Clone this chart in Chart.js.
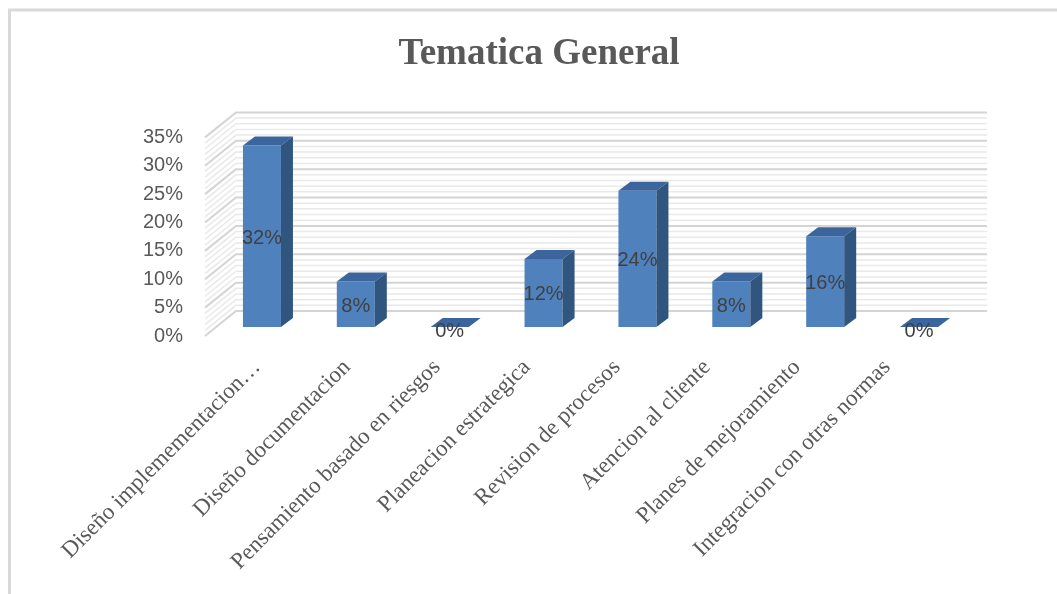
<!DOCTYPE html>
<html>
<head>
<meta charset="utf-8">
<script src="https://cdn.jsdelivr.net/npm/chart.js@4/dist/chart.umd.min.js"></script>
<style>
  body { margin: 0; background: #fff; }
  #wrap { width: 1057px; height: 594px; }
</style>
</head>
<body>
<div id="wrap"><canvas id="myChart"></canvas></div>
<script>
const categories = [
  'Diseño implemementacion…',
  'Diseño documentacion',
  'Pensamiento basado en riesgos',
  'Planeacion estrategica',
  'Revision de procesos',
  'Atencion al cliente',
  'Planes de mejoramiento',
  'Integracion con otras normas',
];
const values = [32, 8, 0, 12, 24, 8, 16, 0];
const yMax = 35;
const yStep = 5;

// fake 3d offsets (dx, dy) from the bar plane
const frontOff = [-10, 9];
const backOff = [21, -16];
const barDepth = [12, -9];

const frame3d = {
  id: 'frame3d',
  beforeDraw(chart) {
    const c = chart.ctx;
    c.save();
    c.fillStyle = '#fff';
    c.fillRect(0, 0, chart.width, chart.height);
    c.strokeStyle = '#d9d9d9';
    c.lineWidth = 3;
    c.strokeRect(9.5, 10, chart.width + 20, chart.height + 20);
    c.restore();
  },
  beforeDatasetsDraw(chart) {
    const c = chart.ctx;
    const y = chart.scales.y;
    const a = chart.chartArea;
    c.save();
    for (let v = 0; v <= yMax; v++) {
      const py = y.getPixelForValue(v);
      const major = v % yStep === 0;
      c.strokeStyle = major ? '#d4d4d4' : '#e9e9e9';
      c.lineWidth = major ? 2 : 1.5;
      c.beginPath();
      c.moveTo(a.left + frontOff[0], py + frontOff[1]);
      c.lineTo(a.left + backOff[0], py + backOff[1]);
      c.lineTo(a.right + backOff[0], py + backOff[1]);
      c.stroke();
    }
    c.restore();
  },
  afterDatasetsDraw(chart) {
    const c = chart.ctx;
    const meta = chart.getDatasetMeta(0);
    const [dx, dy] = barDepth;
    c.save();
    meta.data.forEach(bar => {
      const { x, y, base, width } = bar.getProps(['x', 'y', 'base', 'width'], true);
      const l = x - width / 2, r = x + width / 2;
      c.fillStyle = '#3b659c';
      c.beginPath();
      c.moveTo(l, y); c.lineTo(l + dx, y + dy); c.lineTo(r + dx, y + dy); c.lineTo(r, y);
      c.closePath(); c.fill();
      c.fillStyle = '#30557f';
      c.beginPath();
      c.moveTo(r, y); c.lineTo(r + dx, y + dy); c.lineTo(r + dx, base + dy); c.lineTo(r, base);
      c.closePath(); c.fill();
    });
    c.fillStyle = '#404040';
    c.font = '20px "Liberation Sans"';
    c.textAlign = 'center';
    c.textBaseline = 'middle';
    meta.data.forEach((bar, i) => {
      const { x, y, base } = bar.getProps(['x', 'y', 'base'], true);
      const ly = values[i] === 0 ? base + 4 : (y + base) / 2 + 2;
      c.fillText(values[i] + '%', x, ly);
    });
    c.restore();
  },
};

const config = {
  type: 'bar',
  data: {
    labels: categories,
    datasets: [{
      data: values,
      backgroundColor: '#4f81bd',
      borderWidth: 0,
      barPercentage: 0.405,
      categoryPercentage: 1,
    }],
  },
  options: {
    responsive: true,
    maintainAspectRatio: false,
    animation: false,
    layout: { padding: { top: 0, left: 112, right: 91, bottom: 0 } },
    plugins: {
      legend: { display: false },
      tooltip: { enabled: false },
      title: {
        display: true,
        text: 'Tematica General',
        color: '#595959',
        font: { family: '"Liberation Serif"', size: 37, weight: 'bold' },
        padding: { top: 32, bottom: 52 },
      },
    },
    scales: {
      x: { display: false, offset: true },
      // label axis: Excel spreads the rotated labels a bit tighter than the bars
      xl: {
        type: 'linear',
        position: 'bottom',
        offset: false,
        min: -0.467,
        max: 7.878,
        grid: { display: false, drawTicks: false, offset: false },
        border: { display: false },
        afterBuildTicks: s => { s.ticks = categories.map((_, i) => ({ value: i })); },
        afterFit: s => { s.height = 594 - 327; s.paddingLeft = 0; s.paddingRight = 0; },
        ticks: {
          autoSkip: false,
          minRotation: 45,
          maxRotation: 45,
          padding: 27,
          color: '#595959',
          font: { family: '"Liberation Serif"', size: 23 },
          callback: v => categories[v],
        },
      },
      y: {
        min: 0,
        max: yMax,
        grid: { display: false, drawTicks: false },
        border: { display: false },
        afterFit: s => { s.width = 103; },
        ticks: {
          stepSize: yStep,
          padding: 32,
          labelOffset: 9,
          color: '#595959',
          font: { family: '"Liberation Sans"', size: 20 },
          callback: v => v + '%',
        },
      },
    },
  },
  plugins: [frame3d],
};

const ctx = document.getElementById('myChart').getContext('2d');
const myChart = new Chart(ctx, config);
</script>
</body>
</html>
